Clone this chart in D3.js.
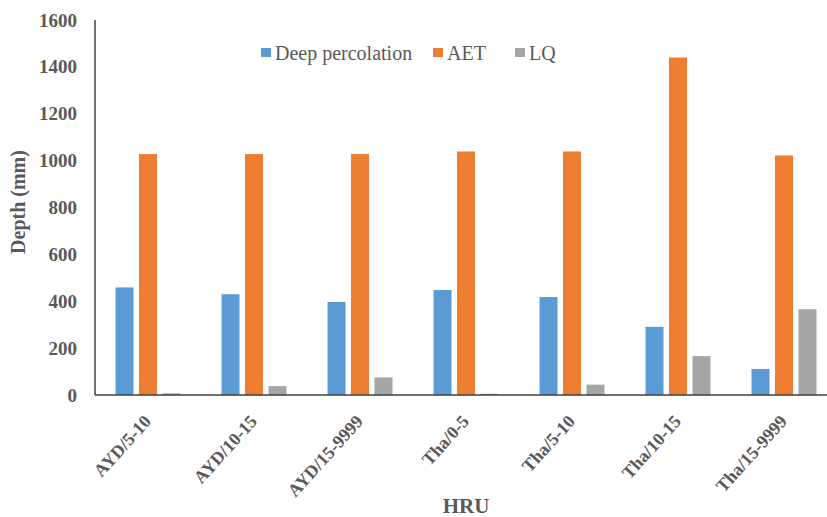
<!DOCTYPE html>
<html>
<head>
<meta charset="utf-8">
<script src="https://cdn.jsdelivr.net/npm/d3@7"></script>
<style>
  html, body { margin: 0; padding: 0; background: #fff; }
  svg { display: block; }
</style>
</head>
<body>
<svg id="chart" width="827" height="517"></svg>
<script>
const categories = ["AYD/5-10", "AYD/10-15", "AYD/15-9999", "Tha/0-5", "Tha/5-10", "Tha/10-15", "Tha/15-9999"];
const seriesNames = ["Deep percolation", "AET", "LQ"];
const deepPercolation = [459, 430, 397, 448, 418, 291, 111];
const aet = [1028, 1028, 1028, 1039, 1039, 1440, 1022];
const lq = [7, 38, 75, 5, 44, 166, 366];
const yTicks = [0, 200, 400, 600, 800, 1000, 1200, 1400, 1600];
const colors = ["#5B9BD5", "#ED7D31", "#A5A5A5"];

(function () {
const seriesValues = [deepPercolation, aet, lq];
const rows = categories.map((c, i) => ({ cat: c, vals: seriesNames.map((s, j) => ({ key: s, value: seriesValues[j][i], idx: j })) }));

const svg = d3.select("#chart");
const mLeft = 95, mRight = 837, mTop = 20, mBottom = 395;
const font = "Liberation Serif";
const textColor = "#595959";

const y = d3.scaleLinear().domain([0, 1600]).range([mBottom, mTop]);
const x0 = d3.scaleBand().domain(categories).range([mLeft, mRight]).paddingInner(0.387).paddingOuter(0.1935);
const x1 = d3.scaleBand().domain(seriesNames).range([0, x0.bandwidth()]).paddingInner(0.234);

// bars
const g = svg.append("g");
g.selectAll("g.grp").data(rows).join("g")
  .attr("class", "grp")
  .attr("transform", d => `translate(${x0(d.cat)},0)`)
  .selectAll("rect").data(d => d.vals).join("rect")
  .attr("x", d => x1(d.key))
  .attr("width", x1.bandwidth())
  .attr("y", d => y(d.value))
  .attr("height", d => y(0) - y(d.value))
  .attr("fill", d => colors[d.idx]);

// y axis
const yAxis = d3.axisLeft(y).tickValues(yTicks).tickSize(0).tickPadding(18).tickFormat(d3.format("d"));
const ya = svg.append("g").attr("transform", `translate(${mLeft},0)`).call(yAxis);
ya.select(".domain").attr("stroke", "#404040").attr("stroke-width", 1.5).attr("d", `M0,${mTop}V${mBottom}`);
ya.selectAll("text").attr("font-family", font).attr("font-size", 19).attr("font-weight", "bold").attr("fill", textColor);

// x axis (line + rotated labels)
const xAxis = d3.axisBottom(x0).tickSize(0).tickFormat("");
const xa = svg.append("g").attr("transform", `translate(0,${mBottom})`).call(xAxis);
xa.select(".domain").attr("stroke", "#404040").attr("stroke-width", 1.5).attr("d", `M${mLeft},0H${mRight}`);

svg.append("g").selectAll("text").data(categories).join("text")
  .attr("transform", d => `translate(${x0(d) + x0.bandwidth() / 2 + 4},${mBottom + 27}) rotate(-48)`)
  .attr("text-anchor", "end")
  .attr("font-family", font).attr("font-size", 18).attr("font-weight", "bold").attr("fill", textColor)
  .text(d => d);

// axis titles
svg.append("text")
  .attr("transform", `translate(25,202) rotate(-90)`)
  .attr("text-anchor", "middle")
  .attr("font-family", font).attr("font-size", 20).attr("font-weight", "bold").attr("fill", textColor)
  .text("Depth (mm)");
svg.append("text")
  .attr("x", 466).attr("y", 513)
  .attr("text-anchor", "middle")
  .attr("font-family", font).attr("font-size", 21).attr("font-weight", "bold").attr("fill", textColor)
  .text("HRU");

// legend
const legendX = [261, 433, 515];
const lg = svg.append("g");
seriesNames.forEach((s, i) => {
  lg.append("rect").attr("x", legendX[i]).attr("y", 48).attr("width", 10).attr("height", 9).attr("fill", colors[i]);
  lg.append("text").attr("x", legendX[i] + 14).attr("y", 60)
    .attr("font-family", font).attr("font-size", 20).attr("fill", textColor)
    .text(s);
});
})();
</script>
</body>
</html>
